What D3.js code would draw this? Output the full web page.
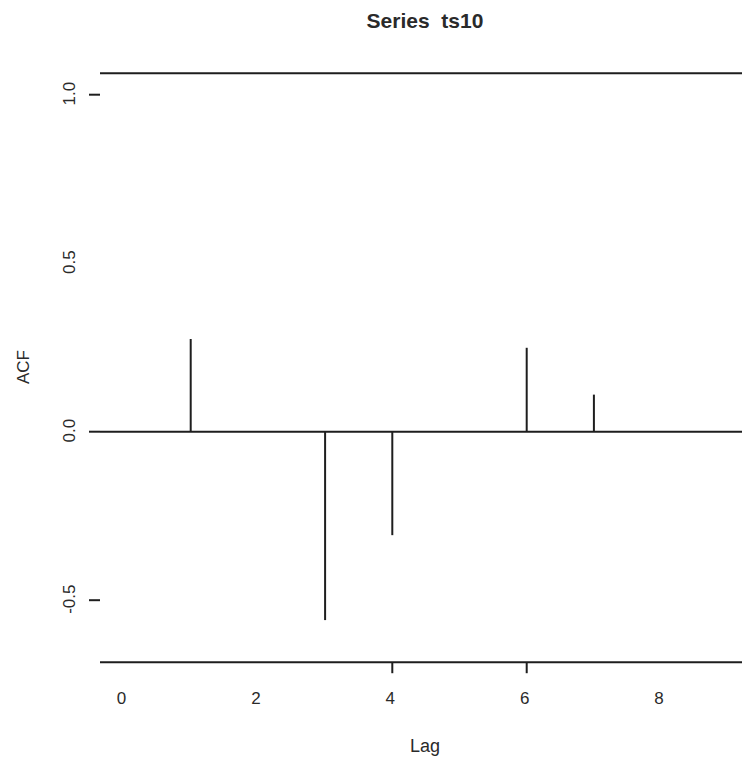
<!DOCTYPE html>
<html>
<head>
<meta charset="utf-8">
<script src="https://cdn.jsdelivr.net/npm/d3@7"></script>
<style>
  body { margin: 0; background: #fff; }
  text { font-family: "Liberation Sans", Arial, sans-serif; fill: #2a2a2a; white-space: pre; }
</style>
</head>
<body>
<svg id="chart" width="742" height="758"></svg>
<script>
const lags = [1, 2, 3, 4, 5, 6, 7, 8, 9];
const acf = [0.275, 0, -0.559, -0.307, 0, 0.249, 0.11, 0, 0];
const xTickLabels = [0, 2, 4, 6, 8];
const xTickMarks = [4, 6];
const yTickLabels = [1.0, 0.5, 0.0, -0.5];
const yTickMarks = [1.0, 0.0, -0.5];

const svg = d3.select("#chart");
const ink = "#1e1e1e";

const x = d3.scaleLinear().domain([0, 9]).range([123.5, 123.5 + 67.2 * 9]);
const y = d3.scaleLinear().domain([-0.5, 1.0]).range([600.2, 94.7]);

const yTop = y(1.064);
const yBottom = y(-0.684);
const left = 100;
const right = 742;

// frame lines (top, bottom) and zero line
svg.selectAll("line.frame")
  .data([yTop, yBottom, y(0)])
  .enter()
  .append("line")
  .attr("class", "frame")
  .attr("x1", left)
  .attr("x2", right)
  .attr("y1", d => d)
  .attr("y2", d => d)
  .attr("stroke", ink)
  .attr("stroke-width", 2);

// spikes
svg.selectAll("line.spike")
  .data(lags.map((l, i) => ({ lag: l, v: acf[i] })).filter(d => d.v !== 0))
  .enter()
  .append("line")
  .attr("class", "spike")
  .attr("x1", d => x(d.lag))
  .attr("x2", d => x(d.lag))
  .attr("y1", y(0))
  .attr("y2", d => y(d.v))
  .attr("stroke", ink)
  .attr("stroke-width", 2);

// y ticks
svg.selectAll("line.ytick")
  .data(yTickMarks)
  .enter()
  .append("line")
  .attr("class", "ytick")
  .attr("x1", 89)
  .attr("x2", left)
  .attr("y1", d => y(d))
  .attr("y2", d => y(d))
  .attr("stroke", ink)
  .attr("stroke-width", 2);

svg.selectAll("text.ylab")
  .data(yTickLabels)
  .enter()
  .append("text")
  .attr("class", "ylab")
  .attr("transform", d => `translate(74.5,${y(d) - 1}) rotate(-90)`)
  .attr("text-anchor", "middle")
  .attr("font-size", 17)
  .text(d => d3.format(".1f")(d).replace("−", "-"));

// x ticks
svg.selectAll("line.xtick")
  .data(xTickMarks)
  .enter()
  .append("line")
  .attr("class", "xtick")
  .attr("x1", d => x(d))
  .attr("x2", d => x(d))
  .attr("y1", yBottom)
  .attr("y2", yBottom + 11)
  .attr("stroke", ink)
  .attr("stroke-width", 2);

svg.selectAll("text.xlab")
  .data(xTickLabels)
  .enter()
  .append("text")
  .attr("class", "xlab")
  .attr("x", d => x(d) - 2)
  .attr("y", 704)
  .attr("text-anchor", "middle")
  .attr("font-size", 17)
  .text(d => d);

// titles
svg.append("text")
  .attr("x", 425)
  .attr("y", 28)
  .attr("text-anchor", "middle")
  .attr("font-size", 21)
  .attr("font-weight", "bold")
  .text("Series  ts10");

svg.append("text")
  .attr("x", 425)
  .attr("y", 752)
  .attr("text-anchor", "middle")
  .attr("font-size", 18)
  .text("Lag");

svg.append("text")
  .attr("transform", "translate(28.5,367) rotate(-90)")
  .attr("text-anchor", "middle")
  .attr("font-size", 17)
  .text("ACF");
</script>
</body>
</html>
